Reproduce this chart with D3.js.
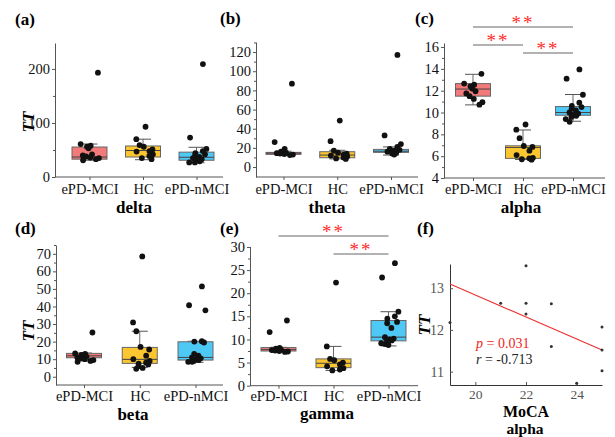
<!DOCTYPE html>
<html>
<head>
<meta charset="utf-8">
<script src="https://cdn.jsdelivr.net/npm/d3@7"></script>
<style>
  body { margin: 0; background: #fff; }
  svg, svg text { font-family: "Liberation Serif", "Times New Roman", serif; }
</style>
</head>
<body>
<svg id="chart" width="615" height="437"></svg>
<script>
const groups = ["ePD-MCI", "HC", "ePD-nMCI"];
const groupColors = ["#f27a7b", "#fcc631", "#4ec8f4"];

// box stats per group: [whisker low, q1, median, q3, whisker high]
const deltaBox = [[31, 33, 37, 55.5, 61], [32, 37, 49, 57.4, 70], [26.5, 31, 36.5, 46, 55]];
const thetaBox = [[12.5, 13.2, 14.5, 15.3, 16.5], [8.5, 9.7, 12.5, 16, 17.5], [12.5, 15.3, 16.5, 18.4, 21]];
const alphaBox = [[10.7, 11.5, 12.15, 12.65, 13.5], [5.7, 5.8, 6.8, 6.95, 8.4], [9.2, 9.75, 10.0, 10.55, 11.65]];
const betaBox = [[9, 10.8, 11.9, 13.3, 13.5], [5.3, 7.6, 9.9, 16.7, 25.9], [8.2, 9.5, 11, 19.9, 20.2]];
const gammaBox = [[7.3, 7.5, 7.8, 8.25, 8.3], [3.3, 3.9, 4.85, 5.8, 8.5], [8.6, 9.7, 10.5, 14.1, 16]];

// individual subjects
const deltaPts = [
  [193, 61, 58, 56, 53, 42, 40, 38, 36, 35, 33, 31],
  [93, 70, 59, 56, 51, 48, 47, 42, 39, 35, 33],
  [209, 73, 52, 48, 44, 42, 40, 37, 35, 33, 31, 29, 27, 27]
];
const thetaPts = [
  [87, 26, 19, 16, 15.5, 15, 14.5, 14, 13.5, 13, 12.5],
  [48.5, 27, 17, 15, 14, 13, 12, 11, 10, 9, 8.5],
  [117, 33, 24, 21, 19, 18, 17.5, 17, 16, 15, 14, 13]
];
const alphaPts = [
  [13.55, 12.65, 12.55, 12.4, 12.2, 11.95, 11.75, 11.5, 11.25, 10.95, 10.72],
  [8.9, 8.43, 7.65, 6.93, 6.85, 6.5, 6.1, 5.85, 5.8, 5.72, 5.68],
  [13.95, 13.1, 11.63, 10.9, 10.6, 10.5, 10.35, 10.2, 10.0, 9.9, 9.8, 9.7, 9.6, 9.4, 9.15]
];
const betaPts = [
  [25.2, 13.3, 13, 12.5, 12, 11.5, 11, 10.5, 10, 9.5, 9, 8.5],
  [68.5, 30.9, 25.9, 17, 15.5, 12, 10, 9, 8, 7.5, 7, 6, 5, 4.5],
  [51.4, 40.7, 37.8, 20.2, 20, 19.5, 13, 12, 11, 10.5, 10, 9.5, 9, 8.5, 8.5]
];
const gammaPts = [
  [14.1, 11.6, 8.2, 8.0, 7.9, 7.8, 7.7, 7.6, 7.5, 7.4, 7.3],
  [22.3, 8.5, 5.8, 5.5, 5.0, 4.6, 4.2, 3.8, 3.5, 3.3],
  [26.5, 23.4, 16, 15, 14.5, 13.8, 13.5, 12.5, 10.5, 10.2, 10, 9.8, 9.5, 9.2, 9, 8.8]
];

// significant pairs (group index a, group index b)
const alphaSig = [[0, 2], [0, 1], [1, 2]];
const gammaSig = [[0, 2], [1, 2]];

// correlation panel (f)
const mocaScore = [19, 21, 22, 22, 22, 23, 23, 24, 25, 25, 25];
const mocaTT = [12.18, 12.64, 13.54, 12.64, 12.38, 12.63, 11.6, 10.72, 12.07, 11.52, 11.02];
const fitX = [19, 25];
const fitY = [13.1, 11.52];

const svg = d3.select("#chart");
const axisColor = "#555";
const serif = '"Liberation Serif", "Times New Roman", serif';

const panels = [
  { tag: "(a)", band: "delta", box: deltaBox, pts: deltaPts, yDomain: [0, 248], yTicks: [0, 100, 200], yMinor: [50, 150],
    x0: 55, x1: 223, top: 43, bottom: 177, cats: [89.5, 196.5], tagPos: [15, 25], titleX: 134, tickY: 193.5, titleY: 212.5,
    tt: [28, 122], sig: [], sigY: [] },
  { tag: "(b)", band: "theta", box: thetaBox, pts: thetaPts, yDomain: [-10.4, 130.5], yTicks: d3.range(0, 121, 20), yMinor: d3.range(10, 131, 20),
    x0: 256, x1: 418, top: 42, bottom: 177, cats: [283.5, 391], tagPos: [220, 24], titleX: 327, tickY: 193.5, titleY: 212.5,
    tt: null, sig: [], sigY: [] },
  { tag: "(c)", band: "alpha", box: alphaBox, pts: alphaPts, yDomain: [4, 16.37], yTicks: d3.range(4, 17, 2), yMinor: d3.range(5, 16, 2),
    x0: 444, x1: 605, top: 43, bottom: 178, cats: [473, 573], tagPos: [415, 24], titleX: 521, tickY: 193.5, titleY: 212.5,
    tt: null, sig: alphaSig, sigY: [27, 45, 53] },
  { tag: "(d)", band: "beta", box: betaBox, pts: betaPts, yDomain: [-4.7, 75], yTicks: d3.range(0, 71, 10), yMinor: d3.range(5, 76, 10),
    x0: 56, x1: 223, top: 245, bottom: 385, cats: [84, 195.5], tagPos: [15, 234], titleX: 133, tickY: 401, titleY: 419.5,
    tt: [28, 331], sig: [], sigY: [] },
  { tag: "(e)", band: "gamma", box: gammaBox, pts: gammaPts, yDomain: [0, 30.1], yTicks: d3.range(0, 31, 5), yMinor: d3.range(2.5, 30, 5),
    x0: 250, x1: 418, top: 246.5, bottom: 385.7, cats: [278.5, 388.5], tagPos: [220, 234], titleX: 327, tickY: 401, titleY: 419,
    tt: null, sig: gammaSig, sigY: [236, 254] }
];

function styleAxis(g, fontSize, textColor) {
  g.attr("font-family", serif);
  g.select(".domain").attr("stroke", axisColor);
  g.selectAll(".tick line").attr("stroke", axisColor);
  g.selectAll(".tick text").attr("font-size", fontSize).attr("fill", textColor);
}

// scatter the dots sideways a little so they don't sit in one column
function jitter(i) {
  const h = Math.sin((i + 1) * 12.9898) * 43758.5453;
  return ((h - Math.floor(h)) - 0.5) * 20;
}

function drawBoxPanel(p) {
  const y = d3.scaleLinear().domain(p.yDomain).range([p.bottom, p.top]);
  const x = d3.scalePoint().domain(groups).range(p.cats);
  const g = svg.append("g");

  // y axis
  const gy = g.append("g").attr("transform", `translate(${p.x0},0)`)
    .call(d3.axisLeft(y).tickValues(p.yTicks).tickSize(3).tickSizeOuter(0).tickPadding(2));
  styleAxis(gy, "14.5px", "#111");
  g.append("g").attr("transform", `translate(${p.x0},0)`)
    .call(d3.axisLeft(y).tickValues(p.yMinor).tickSize(2).tickFormat(""))
    .call(a => { a.select(".domain").remove(); a.selectAll("line").attr("stroke", axisColor); });

  // x axis
  g.append("line").attr("x1", p.x0).attr("x2", p.x1).attr("y1", p.bottom).attr("y2", p.bottom)
    .attr("stroke", axisColor);
  const gx = g.append("g").attr("transform", `translate(0,${p.bottom})`)
    .call(d3.axisBottom(x).tickSize(3).tickPadding(2));
  gx.attr("font-family", serif);
  gx.select(".domain").remove();
  gx.selectAll(".tick line").attr("stroke", axisColor);
  gx.selectAll(".tick text").attr("font-size", "14.5px").attr("fill", "#111")
    .attr("y", p.tickY - p.bottom).attr("dy", 0);

  // boxes
  const bw = 35, cw = 16;
  p.box.forEach((s, i) => {
    const cx = x(groups[i]);
    const wl = y(s[0]), q1 = y(s[1]), md = y(s[2]), q3 = y(s[3]), wh = y(s[4]);
    g.append("line").attr("x1", cx).attr("x2", cx).attr("y1", wh).attr("y2", q3).attr("stroke", "#666");
    g.append("line").attr("x1", cx).attr("x2", cx).attr("y1", q1).attr("y2", wl).attr("stroke", "#666");
    g.append("line").attr("x1", cx - cw / 2).attr("x2", cx + cw / 2).attr("y1", wh).attr("y2", wh).attr("stroke", "#555");
    g.append("line").attr("x1", cx - cw / 2).attr("x2", cx + cw / 2).attr("y1", wl).attr("y2", wl).attr("stroke", "#555");
    g.append("rect").attr("x", cx - bw / 2).attr("y", q3).attr("width", bw).attr("height", Math.max(q1 - q3, 1.5))
      .attr("fill", groupColors[i]).attr("stroke", "#666").attr("stroke-width", 1);
    g.append("line").attr("x1", cx - bw / 2).attr("x2", cx + bw / 2).attr("y1", md).attr("y2", md)
      .attr("stroke", "#444").attr("stroke-width", 1);
  });

  // points
  p.pts.forEach((vals, i) => {
    const cx = x(groups[i]);
    g.selectAll(null).data(vals).enter().append("circle")
      .attr("cx", (d, j) => cx + jitter(j + i * 5))
      .attr("cy", d => y(d))
      .attr("r", 2.9)
      .attr("fill", "#111");
  });

  // significance brackets
  p.sig.forEach((pair, k) => {
    const xa = x(groups[pair[0]]), xb = x(groups[pair[1]]), yy = p.sigY[k];
    g.append("line").attr("x1", xa).attr("x2", xb).attr("y1", yy).attr("y2", yy)
      .attr("stroke", "#666").attr("stroke-width", 1.2);
    g.append("text").attr("x", (xa + xb) / 2).attr("y", yy + 2).attr("text-anchor", "middle")
      .attr("font-size", "19px").attr("letter-spacing", "2px").attr("fill", "#ff2a2a").text("**");
  });

  // labels
  g.append("text").attr("x", p.tagPos[0]).attr("y", p.tagPos[1]).attr("font-size", "17px")
    .attr("font-weight", "bold").text(p.tag);
  g.append("text").attr("x", p.titleX).attr("y", p.titleY).attr("text-anchor", "middle")
    .attr("font-size", "17px").attr("font-weight", "bold").text(p.band);
  if (p.tt) {
    g.append("text").attr("transform", `translate(${p.tt[0]},${p.tt[1]}) rotate(-90)`)
      .attr("text-anchor", "middle").attr("dy", "0.35em")
      .attr("font-size", "17px").attr("font-weight", "bold").attr("font-style", "italic").text("TT");
  }
}

panels.forEach(drawBoxPanel);

// panel (f): TT vs MoCA
(function drawScatter() {
  const x0 = 450, x1 = 602, top = 264, bottom = 385;
  const x = d3.scaleLinear().domain([19, 25]).range([x0, x1]);
  const y = d3.scaleLinear().domain([10.68, 13.58]).range([bottom, top]);
  const g = svg.append("g");

  const gy = g.append("g").attr("transform", `translate(${x0},0)`)
    .call(d3.axisLeft(y).tickValues([11, 12, 13]).tickFormat(d3.format("d"))
      .tickSize(-3).tickSizeOuter(0).tickPadding(6));
  styleAxis(gy, "14px", "#555");
  gy.select(".domain").attr("stroke", "#333");
  const gx = g.append("g").attr("transform", `translate(0,${bottom})`)
    .call(d3.axisBottom(x).tickValues([20, 22, 24]).tickFormat(d3.format("d"))
      .tickSize(-3).tickSizeOuter(0).tickPadding(6));
  styleAxis(gx, "13.5px", "#555");
  gx.select(".domain").attr("stroke", "#333");
  gx.selectAll(".tick text").attr("y", 399 - bottom).attr("dy", 0);

  g.append("line")
    .attr("x1", x(fitX[0])).attr("y1", y(fitY[0]))
    .attr("x2", x(fitX[1])).attr("y2", y(fitY[1]))
    .attr("stroke", "#ee3333").attr("stroke-width", 1.2);

  g.selectAll(null).data(mocaScore).enter().append("circle")
    .attr("cx", d => x(d))
    .attr("cy", (d, i) => y(mocaTT[i]))
    .attr("r", 1.5)
    .attr("fill", "#333");

  const pText = g.append("text").attr("x", 476).attr("y", 348).attr("font-size", "14px").attr("fill", "#ee2222");
  pText.append("tspan").attr("font-style", "italic").text("p");
  pText.append("tspan").text(" = 0.031");
  const rText = g.append("text").attr("x", 476).attr("y", 364).attr("font-size", "14px").attr("fill", "#222");
  rText.append("tspan").attr("font-style", "italic").text("r");
  rText.append("tspan").text(" = -0.713");

  g.append("text").attr("x", 417).attr("y", 234).attr("font-size", "17px").attr("font-weight", "bold").text("(f)");
  g.append("text").attr("x", 526).attr("y", 416.5).attr("text-anchor", "middle")
    .attr("font-size", "16px").attr("font-weight", "bold").text("MoCA");
  g.append("text").attr("x", 525).attr("y", 434).attr("text-anchor", "middle")
    .attr("font-size", "15.5px").attr("font-weight", "bold").text("alpha");
  g.append("text").attr("transform", "translate(424,325) rotate(-90)")
    .attr("text-anchor", "middle").attr("dy", "0.35em")
    .attr("font-size", "17px").attr("font-weight", "bold").attr("font-style", "italic").text("TT");
})();
</script>
</body>
</html>
